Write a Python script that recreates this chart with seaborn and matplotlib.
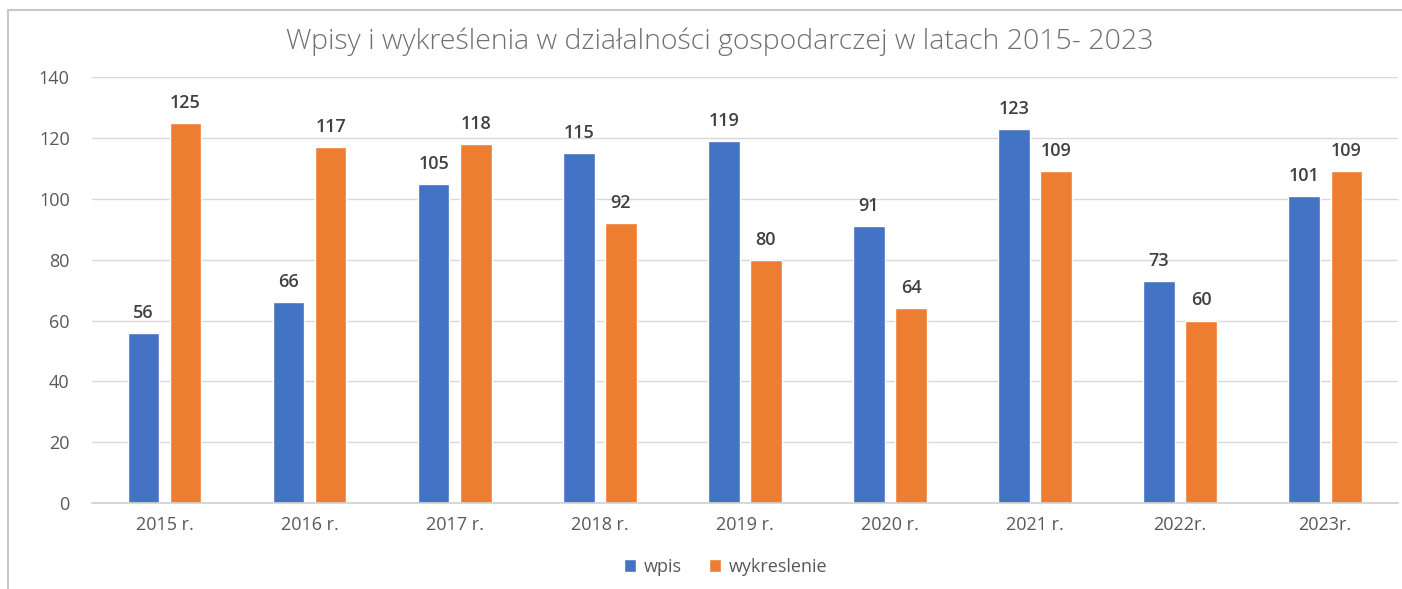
import matplotlib
matplotlib.use("Agg")
import matplotlib.pyplot as plt
import pandas as pd
import seaborn as sns
from matplotlib.patches import Rectangle

# Data
years = ['2015 r.', '2016 r.', '2017 r.', '2018 r.', '2019 r.', '2020 r.', '2021 r.', '2022r.', '2023r.']
wpis = [56, 66, 105, 115, 119, 91, 123, 73, 101]
wykreslenie = [125, 117, 118, 92, 80, 64, 109, 60, 109]
series = ['wpis', 'wykreslenie']
colors = ['#4472C4', '#ED7D31']

df = pd.DataFrame({'rok': years * 2,
                   'typ': ['wpis'] * len(years) + ['wykreslenie'] * len(years),
                   'liczba': wpis + wykreslenie})

sns.set_theme(style='white')
plt.rcParams['font.family'] = ['Open Sans', 'DejaVu Sans']

fig = plt.figure(figsize=(14.02, 5.89), dpi=100)
ax = fig.add_axes([0.0656, 0.146, 0.9314, 0.723])

sns.barplot(data=df, x='rok', y='liczba', hue='typ', hue_order=series,
            palette=colors, width=0.58, gap=0.25, saturation=1, ax=ax, legend=True)

for c in ax.containers:
    ax.bar_label(c, padding=8, fontsize=13, color='#404040', fontweight='semibold')

ax.set_xlim(-0.5, len(years) - 0.5)
ax.set_ylim(0, 140)
ax.set_yticks(range(0, 141, 20))
ax.yaxis.grid(True, color='#D9D9D9', linewidth=1)
ax.set_axisbelow(True)
for s in ['left', 'right', 'top']:
    ax.spines[s].set_visible(False)
ax.spines['bottom'].set_color('#D0D0D0')
ax.spines['bottom'].set_linewidth(1.2)
ax.tick_params(axis='y', length=0, pad=16, labelsize=13, labelcolor='#595959')
ax.tick_params(axis='x', length=0, pad=9, labelsize=13, labelcolor='#595959')
ax.set_xlabel('')
ax.set_ylabel('')

fig.text(720 / 1402, 1 - 42 / 589,
         'Wpisy i wykreślenia w działalności gospodarczej w latach 2015- 2023',
         fontsize=20.5, color='#707070', fontweight='light', ha='center', va='center')

handles, labels = ax.get_legend_handles_labels()
ax.legend(handles, labels, loc='center', bbox_to_anchor=(0.485, -0.15), ncol=2,
          frameon=False, fontsize=13, labelcolor='#595959', handlelength=0.7,
          handleheight=0.7, handletextpad=0.4, columnspacing=1.5)

# light frame around the chart area (left and top edges visible)
fig.patches.append(Rectangle((8 / 1402, -0.02), 1.1, (589 - 10) / 589 + 0.02,
                             transform=fig.transFigure, fill=False,
                             edgecolor='#C8C8C8', linewidth=1.5))

fig.savefig('out.png', dpi=100)
